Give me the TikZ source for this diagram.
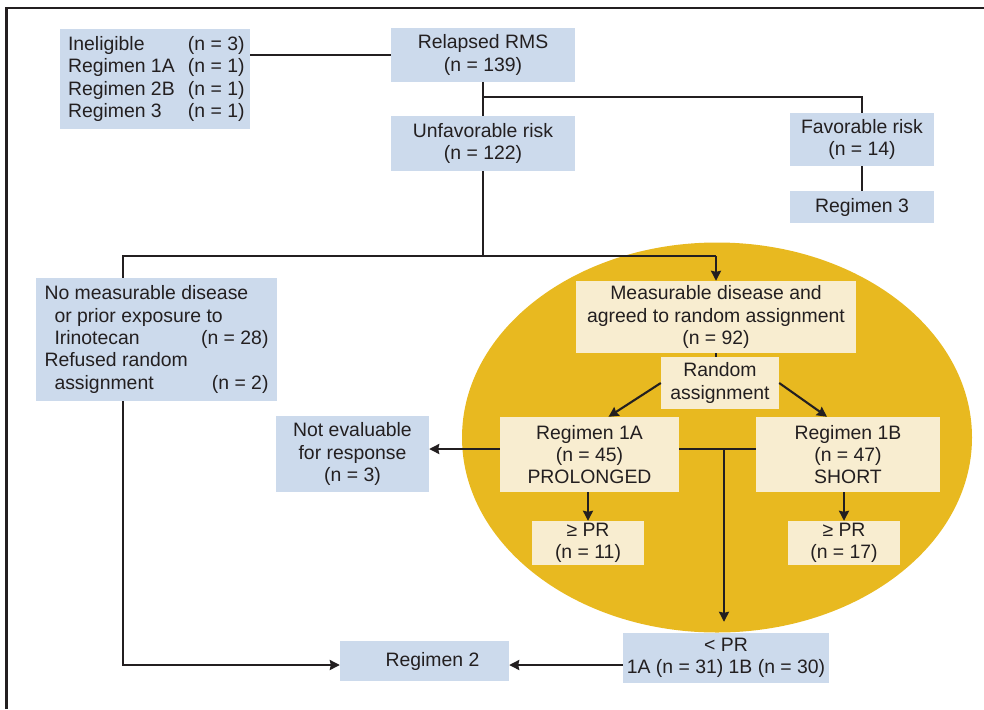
\documentclass[tikz,border=0pt]{standalone}
\usepackage{fontspec}
\setmainfont{Liberation Sans}
\usetikzlibrary{arrows.meta}
\definecolor{ink}{HTML}{231F20}
\definecolor{boxblue}{HTML}{CCDAEC}
\definecolor{cream}{HTML}{F8EDD0}
\definecolor{gold}{HTML}{E8B920}
\tikzset{
  txt/.style={font=\fontsize{19.4}{22.3}\selectfont, text=ink, inner sep=0pt, align=center},
  bluebox/.style={txt, fill=boxblue},
  creambox/.style={txt, fill=cream},
  conn/.style={draw=ink, line width=2.1pt},
  arr/.style={conn, -{Stealth[length=10pt,width=10pt,inset=1pt]}},
  frameline/.style={draw=ink, line width=2.4pt}
}
\begin{document}
\begin{tikzpicture}[x=1pt,y=-1pt]
\useasboundingbox (0,0) rectangle (984,709);
\draw[frameline] (6.5,709) -- (6.5,8) -- (984,8);
% ellipse
\fill[gold] (717,437.5) ellipse [x radius=255, y radius=195];
% boxes
\node[bluebox, minimum width=190, minimum height=100] (inel) at (155,79)
 {\makebox[174pt][l]{\makebox[120pt][l]{Ineligible}(n = 3)}\\
  \makebox[174pt][l]{\makebox[120pt][l]{Regimen 1A}(n = 1)}\\
  \makebox[174pt][l]{\makebox[120pt][l]{Regimen 2B}(n = 1)}\\
  \makebox[174pt][l]{\makebox[120pt][l]{Regimen 3}(n = 1)}};
\node[bluebox, minimum width=184, minimum height=54] (relapsed) at (483,55) {Relapsed RMS\\(n = 139)};
\node[bluebox, minimum width=184, minimum height=55] (unfav) at (483,143.5) {Unfavorable risk\\(n = 122)};
\node[bluebox, minimum width=144, minimum height=53] (fav) at (862,139.5) {Favorable risk\\(n = 14)};
\node[bluebox, minimum width=144, minimum height=32] (reg3) at (862,207) {Regimen 3};
\node[bluebox, minimum width=241, minimum height=123] (nomeas) at (156.5,339.5)
 {\makebox[224pt][l]{No measurable disease}\\
  \makebox[224pt][l]{\hspace*{10pt}or prior exposure to}\\
  \makebox[224pt][l]{\hspace*{10pt}Irinotecan\hfill(n = 28)}\\
  \makebox[224pt][l]{Refused random}\\
  \makebox[224pt][l]{\hspace*{10pt}assignment\hfill(n = 2)}};
\node[creambox, minimum width=280, minimum height=72] (meas) at (716,317) {Measurable disease and\\agreed to random assignment\\(n = 92)};
\node[creambox, minimum width=118, minimum height=52] (rand) at (720,383) {Random\\assignment};
\node[creambox, minimum width=179, minimum height=75] (reg1a) at (589.5,454.5) {Regimen 1A\\(n = 45)\\PROLONGED};
\node[creambox, minimum width=184, minimum height=75] (reg1b) at (848,454.5) {Regimen 1B\\(n = 47)\\SHORT};
\node[creambox, minimum width=112, minimum height=44] (pr1a) at (588,543) {≥ PR\\(n = 11)};
\node[creambox, minimum width=112, minimum height=44] (pr1b) at (844,543) {≥ PR\\(n = 17)};
\node[bluebox, minimum width=153, minimum height=76] (noteval) at (352.5,454) {Not evaluable\\for response\\(n = 3)};
\node[bluebox, minimum width=169, minimum height=40] (reg2) at (424.5,661) {\hspace*{16pt}Regimen 2};
\node[bluebox, minimum width=206, minimum height=50] (ltpr) at (726,658) {< PR\\1A (n = 31) 1B (n = 30)};
% junction coordinates
\coordinate (j1) at (483,97);
\coordinate (lx) at (123,256);
\coordinate (jr) at (724,449);
\coordinate (r2y) at (0,665);
% connectors
\draw[conn] (inel.east |- relapsed.west) -- (relapsed.west);
\draw[conn] (relapsed.south) -- (unfav.north);
\draw[conn] (j1) -| (fav.north);
\draw[conn] (fav.south) -- (reg3.north);
\draw[conn] (unfav.south) -- (unfav.south |- lx);
\draw[conn] (lx |- nomeas.north) -- (lx) -- (lx -| meas.north);
\draw[arr] (lx -| meas.north) -- (meas.north);
\draw[arr] (lx |- nomeas.south) |- (reg2.west |- r2y);
\draw[conn] (meas.south) -- (meas.south |- rand.north);
\draw[arr] (rand.west) -- ([xshift=19pt]reg1a.north);
\draw[arr] (rand.east) -- ([xshift=-21pt]reg1b.north);
\draw[arr] (reg1a.south -| pr1a.north) -- (pr1a.north);
\draw[arr] (reg1b.south -| pr1b.north) -- (pr1b.north);
\draw[arr] (reg1a.west |- jr) -- (noteval.east |- jr);
\draw[conn] (reg1a.east |- jr) -- (reg1b.west |- jr);
\draw[arr] (jr) -- ([yshift=11pt]ltpr.north -| jr);
\draw[arr] (ltpr.west |- r2y) -- (reg2.east |- r2y);
\end{tikzpicture}
\end{document}
